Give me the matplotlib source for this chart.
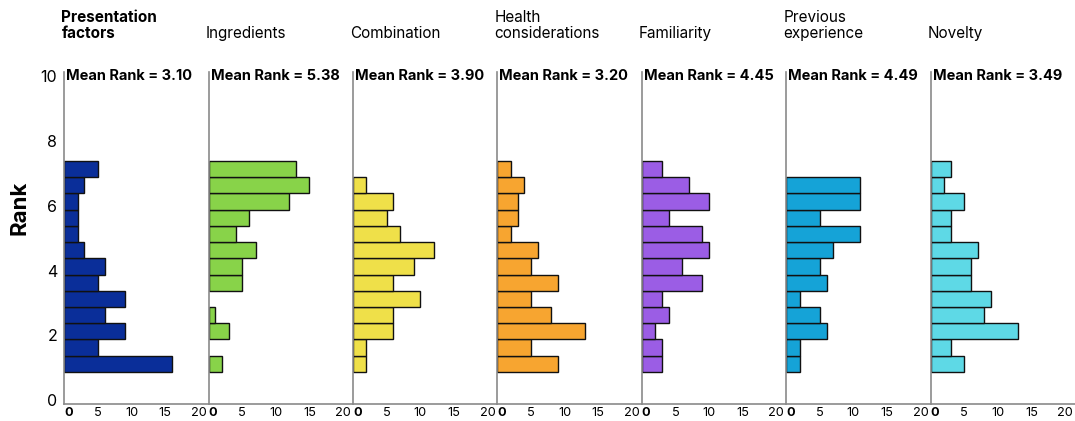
import matplotlib.pyplot as plt
import numpy as np

plt.rcParams['font.family'] = ['Inter', 'DejaVu Sans']

# rank bins (0.5 wide), counts per factor from bottom (rank ~1) to top (rank ~7)
bin_start = 0.875
bin_width = 0.5
n_bins = 13

factors = ["Presentation\nfactors", "Ingredients", "Combination", "Health\nconsiderations",
           "Familiarity", "Previous\nexperience", "Novelty"]
mean_ranks = [3.10, 5.38, 3.90, 3.20, 4.45, 4.49, 3.49]

presentation = [16, 5, 9, 6, 9, 5, 6, 3, 2, 2, 2, 3, 5]
ingredients = [2, 0, 3, 1, 0, 5, 5, 7, 4, 6, 12, 15, 13]
combination = [2, 2, 6, 6, 10, 6, 9, 12, 7, 5, 6, 2, 0]
health = [9, 5, 13, 8, 5, 9, 5, 6, 2, 3, 3, 4, 2]
familiarity = [3, 3, 2, 4, 3, 9, 6, 10, 9, 4, 10, 7, 3]
previous = [2, 2, 6, 5, 2, 6, 5, 7, 11, 5, 11, 11, 0]
novelty = [5, 3, 13, 8, 9, 6, 6, 7, 3, 3, 5, 2, 3]

counts = [presentation, ingredients, combination, health, familiarity, previous, novelty]
colors = ["#0a2e99", "#88d349", "#efe049", "#f7a530", "#9b5de5", "#15a3d7", "#5ed9e6"]

edges = bin_start + bin_width * np.arange(n_bins)

fig = plt.figure(figsize=(10.75, 4.21), dpi=100)
left, right, bottom, top = 0.0598, 1.0, 0.040, 0.829
w = (right - left) / 7

for i, (name, c, col, mr) in enumerate(zip(factors, counts, colors, mean_ranks)):
    ax = fig.add_axes([left + i * w, bottom, w, top - bottom])
    c = np.array(c)
    keep = c > 0  # empty bins get no outline
    ax.barh(edges[keep], c[keep], height=bin_width, align='edge', color=col,
            edgecolor='#111111', linewidth=1.0)
    ax.set_xlim(0, 21.5)
    ax.set_ylim(-0.12, 10.12)
    for s in ['top', 'right']:
        ax.spines[s].set_visible(False)
    for s in ['left', 'bottom']:
        ax.spines[s].set_color('#8a8a8a')
        ax.spines[s].set_linewidth(1.2)
    ax.set_xticks([0, 5, 10, 15, 20])
    ax.set_xticklabels(['0', '5', '10', '15', '20'], fontsize=9.2)
    zero = ax.get_xticklabels()[0]
    zero.set_fontweight('bold')
    zero.set_horizontalalignment('left')
    ax.tick_params(axis='x', length=0, pad=2)
    if i == 0:
        ax.set_yticks([0, 2, 4, 6, 8, 10])
        ax.tick_params(axis='y', length=0, labelsize=11.5, pad=5)
        ax.set_ylabel("Rank", fontsize=16, fontweight='bold', labelpad=8, y=0.59)
    else:
        ax.set_yticks([])
    ax.text(0.3, 10.0, f"Mean Rank = {mr:.2f}", fontsize=10.5, fontweight='bold',
            va='center', ha='left')
    ax.text(-0.02, 1.0 + (0.91 - top) / (top - bottom), name, transform=ax.transAxes,
            fontsize=11, fontweight='bold' if i == 0 else 'normal',
            ha='left', va='baseline', linespacing=1.1)

fig.savefig("out.png", dpi=100)
